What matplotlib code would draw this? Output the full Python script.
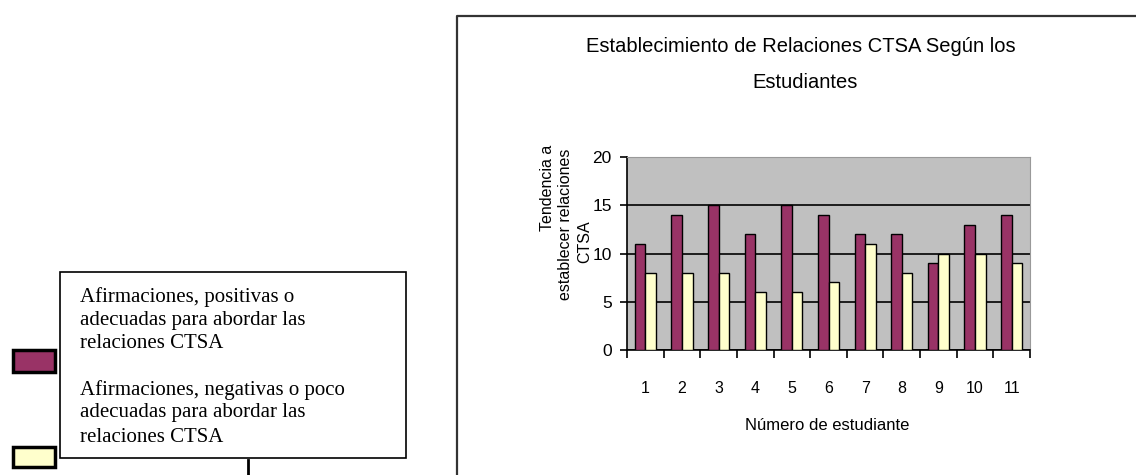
import matplotlib
matplotlib.use('Agg')
import matplotlib.pyplot as plt
from matplotlib.lines import Line2D
from matplotlib.patches import Rectangle
import numpy as np

# student scores: positive vs negative statements
students = ['1', '2', '3', '4', '5', '6', '7', '8', '9', '10', '11']
positivas = [11, 14, 15, 12, 15, 14, 12, 12, 9, 13, 14]
negativas = [8, 8, 8, 6, 6, 7, 11, 8, 10, 10, 9]

W, H = 1136, 475
fig = plt.figure(figsize=(W / 100, H / 100), dpi=100)

def fx(px):
    return px / W

def fy(py):
    return 1 - py / H

# outer chart frame (runs off the right and bottom edges)
fig.add_artist(Line2D([fx(457), fx(457), fx(1140)], [fy(480), fy(16), fy(16)],
                      transform=fig.transFigure, color='#333333', lw=1.6))

ax = fig.add_axes([fx(627), fy(350), fx(1030) - fx(627), fy(157) - fy(350)])
ax.set_facecolor('#c0c0c0')

x = np.arange(len(students))
w = 0.29
ax.bar(x - w / 2, positivas, w, color='#993366', edgecolor='black', lw=1.0, zorder=3)
ax.bar(x + w / 2, negativas, w, color='#ffffcc', edgecolor='black', lw=1.0, zorder=3)

ax.set_xlim(-0.5, len(students) - 0.5)
ax.set_ylim(0, 20)
ax.set_yticks([0, 5, 10, 15, 20])
ax.yaxis.grid(True, color='black', lw=1.2, zorder=1)
ax.set_axisbelow(True)

# boundaries get tick marks, centres get labels
ax.set_xticks(np.arange(-0.5, len(students), 1.0))
ax.set_xticklabels([])
ax.set_xticks(x, minor=True)
ax.set_xticklabels(students, minor=True, fontsize=11.5, family='Liberation Sans')
ax.tick_params(axis='x', which='major', direction='out', length=6, width=1.2)
ax.tick_params(axis='x', which='minor', length=0, pad=22)
ax.tick_params(axis='y', direction='out', length=5, width=1.2, labelsize=12.5, pad=6)
for lbl in ax.get_yticklabels():
    lbl.set_family('Liberation Sans')

ax.spines['left'].set_linewidth(1.2)
ax.spines['bottom'].set_linewidth(1.2)
ax.spines['top'].set_color('#999999')
ax.spines['right'].set_color('#999999')

fig.text(fx(827), fy(425), 'Número de estudiante', ha='center', va='center',
         fontsize=12, family='Liberation Sans')

fig.text(fx(801), fy(47), 'Establecimiento de Relaciones CTSA Según los',
         ha='center', va='center', fontsize=14.5, family='Liberation Sans')
fig.text(fx(805), fy(82), 'Estudiantes',
         ha='center', va='center', fontsize=14.5, family='Liberation Sans')

# y-axis title in three lines
ylines = [('Tendencia a', 547, 188), ('establecer relaciones', 566, 224), ('CTSA', 585, 242)]
for txt, px, py in ylines:
    fig.text(fx(px), fy(py), txt, rotation=90, ha='center', va='center',
             fontsize=11.5, family='Liberation Sans')

# legend box on the left
fig.add_artist(Rectangle((fx(60), fy(458)), fx(406) - fx(60), fy(272) - fy(458),
                         transform=fig.transFigure, facecolor='white',
                         edgecolor='black', lw=1.2))
leg_lines = [('Afirmaciones, positivas o', 297), ('adecuadas para abordar las', 320),
             ('relaciones CTSA', 343),
             ('Afirmaciones, negativas o poco', 390), ('adecuadas para abordar las', 413),
             ('relaciones CTSA', 437)]
for txt, py in leg_lines:
    fig.text(fx(80), fy(py), txt, ha='left', va='center', fontsize=15,
             family='Liberation Serif')

fig.add_artist(Rectangle((fx(13), fy(372)), fx(55) - fx(13), fy(350) - fy(372),
                         transform=fig.transFigure, facecolor='#993366',
                         edgecolor='black', lw=2.5))
fig.add_artist(Rectangle((fx(13), fy(467)), fx(55) - fx(13), fy(447) - fy(467),
                         transform=fig.transFigure, facecolor='#ffffcc',
                         edgecolor='black', lw=2.5))
fig.add_artist(Line2D([fx(248), fx(248)], [fy(460), fy(476)],
                      transform=fig.transFigure, color='black', lw=2))

fig.savefig('out.png', dpi=100)
